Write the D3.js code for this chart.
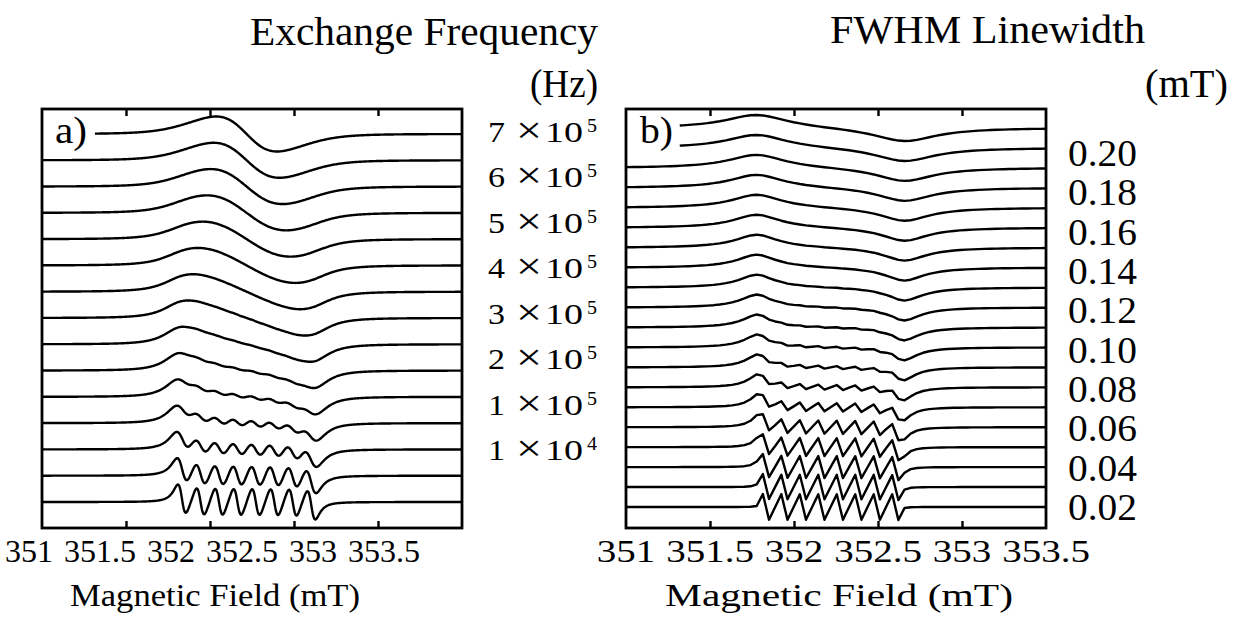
<!DOCTYPE html>
<html>
<head>
<meta charset="utf-8">
<script src="https://cdn.jsdelivr.net/npm/d3@7"></script>
<style>
  body { margin: 0; background: #fff; }
  svg text { fill: #000; }
</style>
</head>
<body>
<svg id="chart" width="1236" height="626" font-family="'Liberation Serif', 'DejaVu Serif Condensed', 'DejaVu Serif', serif" font-stretch="condensed"></svg>
<script>
const linePositions = [351.833, 351.943, 352.053, 352.163, 352.273, 352.383, 352.493, 352.603];

// panel a: exchange frequency of each trace, bottom to top (Hz)
const exchangeRates = [1e4, 5e4, 1e5, 1.5e5, 2e5, 2.5e5, 3e5, 3.5e5, 4e5, 4.5e5, 5e5, 5.5e5, 6e5, 6.5e5, 7e5];
const exchangeMantissa = ["7", "6", "5", "4", "3", "2", "1", "1"];
const exchangeExponent = ["5", "5", "5", "5", "5", "5", "5", "4"];

// panel b: FWHM linewidth of each trace, bottom to top (mT)
const linewidths = [0.01, 0.02, 0.03, 0.04, 0.05, 0.06, 0.07, 0.08, 0.09, 0.10,
                    0.11, 0.12, 0.13, 0.14, 0.15, 0.16, 0.17, 0.18, 0.19, 0.20];
const linewidthLabels = ["0.20", "0.18", "0.16", "0.14", "0.12", "0.10", "0.08", "0.06", "0.04", "0.02"];

// field axis
const fieldDomain = [351, 353.5];
const fieldTicks = [351, 351.5, 352, 352.5, 353, 353.5];
const innerTicks = [351.5, 352, 352.5, 353];

// model constants (tuned by eye against the figure)
const intrinsicHalfWidth = 0.04;    // mT, panel a
const rateToField = 3.9e-7;         // mT per Hz of exchange frequency
const widthToHalfWidth = 1.2;       // panel b effective Lorentzian half width per label unit

const svg = d3.select("#chart");

// coarse grid (panel b): three samples per line spacing, lines half-way between samples
const coarseStep = (linePositions[1] - linePositions[0]) / 3;
function coarseGrid() {
  let start = linePositions[0] - coarseStep / 2;
  start -= Math.floor((start - fieldDomain[0]) / coarseStep) * coarseStep;
  const pts = [fieldDomain[0]];
  for (let i = 0; ; i++) {
    const b = start + i * coarseStep;
    if (b >= fieldDomain[1]) break;
    if (b > fieldDomain[0]) pts.push(b);
  }
  pts.push(fieldDomain[1]);
  return pts;
}
const gridB = coarseGrid();
const gridA = d3.range(0, 626).map(i => fieldDomain[0] + i * (fieldDomain[1] - fieldDomain[0]) / 625);

// absorption with Heisenberg exchange among equally populated lines
function absorption(B, gamma, w) {
  const p = 1 / linePositions.length;
  let sr = 0, si = 0;
  for (const x of linePositions) {
    const a = gamma + w, b = x - B, den = a * a + b * b;
    sr += a / den;
    si -= b / den;
  }
  const dr = 1 - w * p * sr, di = -w * p * si;
  return p * (sr * dr + si * di) / (dr * dr + di * di);
}
function derivative(B, gamma, w) {
  const h = 1e-5;
  return (absorption(B + h, gamma, w) - absorption(B - h, gamma, w)) / (2 * h);
}

function tracePoints(grid, gamma, w, startField) {
  const pts = grid.filter(b => b >= startField);
  if (startField > fieldDomain[0]) pts.unshift(startField);
  return pts.map(B => ({ B, v: derivative(B, gamma, w) }));
}

function drawPanel(cfg) {
  const g = svg.append("g");
  const x = d3.scaleLinear().domain(fieldDomain).range([cfg.left, cfg.right]);
  const yBase = d3.scaleLinear().domain([0, cfg.traces.length - 1]).range(cfg.baseRange);
  const line = d3.line().x(d => x(d.B)).y(d => d.y);

  cfg.traces.forEach((t, i) => {
    const pts = tracePoints(cfg.grid, t.gamma, t.w, t.start);
    const ext = d3.extent(tracePoints(cfg.grid, t.gamma, t.w, fieldDomain[0]), d => d.v);
    const amp = d3.scaleLinear().domain([0, ext[1] - ext[0]]).range([0, cfg.pp]);
    pts.forEach(d => d.y = yBase(i) - amp(d.v));
    g.append("path")
      .attr("d", line(pts))
      .attr("fill", "none")
      .attr("stroke", "#000")
      .attr("stroke-width", 2.4)
      .attr("stroke-linejoin", "round");
  });

  // frame
  g.append("rect")
    .attr("x", cfg.left).attr("y", cfg.top)
    .attr("width", cfg.right - cfg.left).attr("height", cfg.bottom - cfg.top)
    .attr("fill", "none").attr("stroke", "#000").attr("stroke-width", 2.8);

  // inward ticks top and bottom
  const bottomAxis = d3.axisBottom(x).tickValues(innerTicks).tickFormat("").tickSizeInner(-7).tickSizeOuter(0);
  const topAxis = d3.axisTop(x).tickValues(innerTicks).tickFormat("").tickSizeInner(-7).tickSizeOuter(0);
  [g.append("g").attr("transform", `translate(0,${cfg.bottom})`).call(bottomAxis),
   g.append("g").attr("transform", `translate(0,${cfg.top})`).call(topAxis)]
    .forEach(a => {
      a.select(".domain").remove();
      a.selectAll(".tick line").attr("stroke", "#000").attr("stroke-width", 2.4);
    });
  return x;
}

// panel a
const xa = drawPanel({
  left: 42, right: 462, top: 109, bottom: 528,
  baseRange: [502, 134], pp: 35, grid: gridA,
  traces: exchangeRates.map((k, i) => ({
    gamma: intrinsicHalfWidth,
    w: k * rateToField,
    start: i === exchangeRates.length - 1 ? 351.315 : fieldDomain[0]
  }))
});

// panel b
const xb = drawPanel({
  left: 626, right: 1046, top: 109, bottom: 528,
  baseRange: [507, 128], pp: 26, grid: gridB,
  traces: linewidths.map((fw, i) => ({
    gamma: fw * widthToHalfWidth,
    w: 0,
    start: i >= linewidths.length - 2 ? 351.32 : fieldDomain[0]
  }))
});

// text with a fixed rendered width (glyphs stretched or squeezed to fit)
function label(parent, str, x, y, size, width, anchor) {
  const t = parent.append("text")
    .attr("x", x).attr("y", y)
    .attr("font-size", size)
    .attr("text-anchor", anchor || "start")
    .text(str);
  if (width) t.attr("textLength", width).attr("lengthAdjust", "spacingAndGlyphs");
  return t;
}
// width of a string in Times-like em units (digits 0.5, point 0.25)
const emWidth = s => String(s).split("").reduce((a, c) => a + (c === "." ? 0.25 : 0.5), 0);

// titles
label(svg, "Exchange Frequency", 250, 45, 40, 348);
label(svg, "(Hz)", 530, 97, 40, 68);
label(svg, "FWHM Linewidth", 830, 43, 40, 315);
label(svg, "(mT)", 1145, 97, 40, 83);

// panel tags
label(svg, "a)", 55, 143, 37, 32);
label(svg, "b)", 640, 143, 37, 33);

// field tick labels: panel a squeezed evenly, panel b centred on ticks
const labelPosA = d3.scalePoint().domain(fieldTicks).range([29, 384]);
const ta = svg.append("g");
fieldTicks.forEach(v => label(ta, v, labelPosA(v), 562, 31, emWidth(v) * 32, "middle"));
const tb = svg.append("g");
fieldTicks.forEach(v => label(tb, v, xb(v), 562, 31, emWidth(v) * 39, "middle"));

label(svg, "Magnetic Field (mT)", 70, 606, 32, 290);
label(svg, "Magnetic Field (mT)", 665, 606, 32, 348);

// panel a right-hand labels
const rowA = d3.scalePoint().domain(d3.range(exchangeMantissa.length)).range([142, 460]);
const ga = svg.append("g");
exchangeMantissa.forEach((m, i) => {
  const y = rowA(i);
  label(ga, m, 488, y, 30, 17);
  label(ga, "\u00d7", 516, y + 1, 38, 26);
  label(ga, "10", 545, y, 30, 38);
  label(ga, exchangeExponent[i], 587, y - 10, 19, 10);
});

// panel b right-hand labels
const rowB = d3.scalePoint().domain(linewidthLabels).range([166, 520]);
const gb = svg.append("g");
linewidthLabels.forEach(s => label(gb, s, 1068, rowB(s), 37, 69));
</script>
</body>
</html>
